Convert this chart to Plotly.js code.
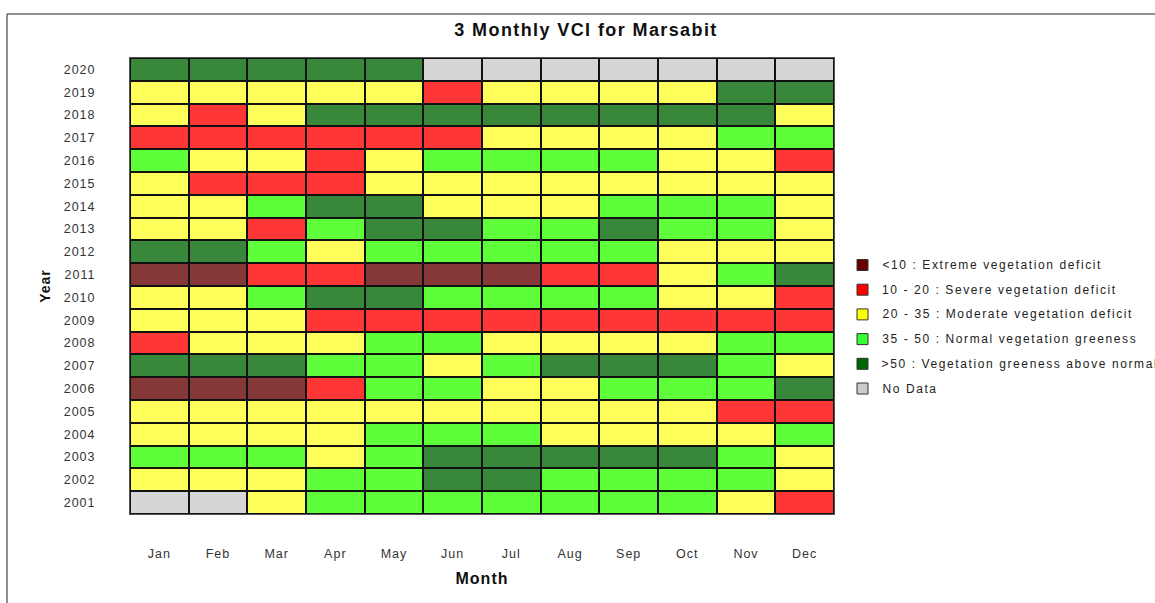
<!DOCTYPE html>
<html>
<head>
<meta charset="utf-8">
<script src="https://cdn.plot.ly/plotly-3.0.1.min.js"></script>
<style>
html,body{margin:0;padding:0;background:#fff;}
#chart{width:1155px;height:603px;}
#chart svg text{letter-spacing:1px;}
#chart svg .gtitle{letter-spacing:1.4px;}
#chart svg .annotation-text{letter-spacing:1.6px;}
</style>
</head>
<body>
<div id="chart"></div>
<script>
// ---- data ----
const months = ["Jan","Feb","Mar","Apr","May","Jun","Jul","Aug","Sep","Oct","Nov","Dec"];
const years = ["2001","2002","2003","2004","2005","2006","2007","2008","2009","2010",
               "2011","2012","2013","2014","2015","2016","2017","2018","2019","2020"];
// class codes: 0 <10, 1 10-20, 2 20-35, 3 35-50, 4 >50, 5 no data
const vci2001 = [5,5,2,3,3,3,3,3,3,3,2,1];
const vci2002 = [2,2,2,3,3,4,4,3,3,3,3,2];
const vci2003 = [3,3,3,2,3,4,4,4,4,4,3,2];
const vci2004 = [2,2,2,2,3,3,3,2,2,2,2,3];
const vci2005 = [2,2,2,2,2,2,2,2,2,2,1,1];
const vci2006 = [0,0,0,1,3,3,2,2,3,3,3,4];
const vci2007 = [4,4,4,3,3,2,3,4,4,4,3,2];
const vci2008 = [1,2,2,2,3,3,2,2,2,2,3,3];
const vci2009 = [2,2,2,1,1,1,1,1,1,1,1,1];
const vci2010 = [2,2,3,4,4,3,3,3,3,2,2,1];
const vci2011 = [0,0,1,1,0,0,0,1,1,2,3,4];
const vci2012 = [4,4,3,2,3,3,3,3,3,2,2,2];
const vci2013 = [2,2,1,3,4,4,3,3,4,3,3,2];
const vci2014 = [2,2,3,4,4,2,2,2,3,3,3,2];
const vci2015 = [2,1,1,1,2,2,2,2,2,2,2,2];
const vci2016 = [3,2,2,1,2,3,3,3,3,2,2,1];
const vci2017 = [1,1,1,1,1,1,2,2,2,2,3,3];
const vci2018 = [2,1,2,4,4,4,4,4,4,4,4,2];
const vci2019 = [2,2,2,2,2,1,2,2,2,2,4,4];
const vci2020 = [4,4,4,4,4,5,5,5,5,5,5,5];
const classLabels = ["<10 : Extreme vegetation deficit","10 - 20 : Severe vegetation deficit",
  "20 - 35 : Moderate vegetation deficit","35 - 50 : Normal vegetation greeness",
  ">50 : Vegetation greeness above normal","No Data"];
const cellColors = ["#863838","#ff3636","#ffff5c","#5eff3a","#38873a","#d6d6d6"];
const legendColors = ["#660000","#ff0000","#ffff00","#33ff33","#006600","#cccccc"];

// ---- build ----
const z = [vci2001,vci2002,vci2003,vci2004,vci2005,vci2006,vci2007,vci2008,vci2009,vci2010,
           vci2011,vci2012,vci2013,vci2014,vci2015,vci2016,vci2017,vci2018,vci2019,vci2020];
const n = cellColors.length;
const colorscale = [];
cellColors.forEach((c,i)=>{ colorscale.push([i/n,c]); colorscale.push([(i+1)/n,c]); });

const L=130, R=834, T=58, B=514, W=1155, H=603;
const px = x => (x-L)/(R-L);
const py = y => (B-y)/(B-T);

const shapes = [{type:'rect', xref:'paper', yref:'paper', x0:px(7), x1:px(1200), y0:py(14), y1:py(650),
  line:{color:'#222', width:1}, fillcolor:'rgba(0,0,0,0)', layer:'below'}];
const annotations = [];
classLabels.forEach((lab,i)=>{
  const cy = 265 + i*24.7;
  shapes.push({type:'rect', xref:'paper', yref:'paper', x0:px(857), x1:px(868), y0:py(cy+5.5), y1:py(cy-5.5),
    line:{color:'#333', width:1}, fillcolor:legendColors[i]});
  annotations.push({xref:'paper', yref:'paper', x:px(880 + lab.length*0.8), y:py(cy), xanchor:'left', yanchor:'middle',
    text:lab, showarrow:false, font:{family:'Liberation Sans, Arial', size:12, color:'#222'}});
});

const trace = {type:'heatmap', x:months, y:years, z:z, colorscale:colorscale, zmin:0, zmax:n,
  showscale:false, xgap:2, ygap:2, hoverinfo:'x+y+z'};

const layout = {
  width:W, height:H, margin:{l:L, r:W-R, t:T, b:H-B, pad:0},
  paper_bgcolor:'#fff', plot_bgcolor:'#111',
  title:{text:'<b>3 Monthly VCI for Marsabit</b>', x:586/W, xanchor:'center', y:1-30/H, yanchor:'middle',
    font:{family:'Liberation Sans, Arial', size:18, color:'#111'}},
  xaxis:{type:'category', categoryorder:'array', categoryarray:months, showgrid:false, zeroline:false,
    ticks:'', ticklabelstandoff:28, showline:true, linecolor:'#555', linewidth:1, mirror:true,
    tickfont:{family:'Liberation Sans, Arial', size:12.5, color:'#333'},
    title:{text:'<b>Month</b>', standoff:12, font:{family:'Liberation Sans, Arial', size:16, color:'#111'}}},
  yaxis:{type:'category', categoryorder:'array', categoryarray:years, showgrid:false, zeroline:false,
    ticks:'', ticklabelstandoff:31, showline:true, linecolor:'#555', linewidth:1, mirror:true,
    tickfont:{family:'Liberation Sans, Arial', size:12.5, color:'#333'},
    title:{text:'<b>Year</b>', standoff:13, font:{family:'Liberation Sans, Arial', size:14, color:'#111'}}},
  shapes:shapes, annotations:annotations, showlegend:false
};
Plotly.newPlot('chart', [trace], layout, {displayModeBar:false});
</script>
</body>
</html>
